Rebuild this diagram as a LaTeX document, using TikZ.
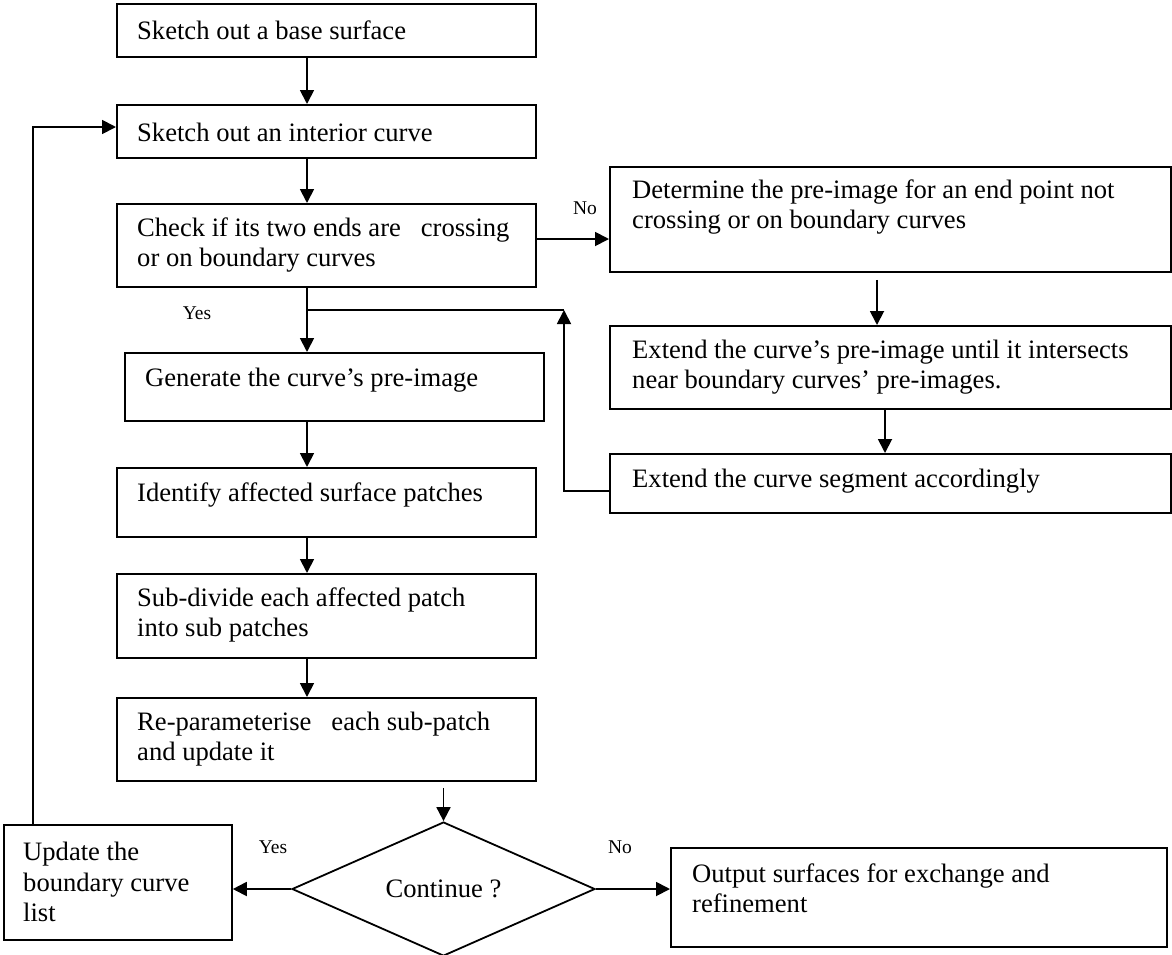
\documentclass[tikz,border=0pt]{standalone}
\usepackage{fontspec}
\setmainfont{Liberation Serif}
\usetikzlibrary{arrows.meta,shapes.geometric,calc}
\newcommand\mkbox[5]{\node[box,minimum width={(#4-#2)*1pt},minimum height={(#5-#3)*1pt}] (#1) at (#2,#3) {};}
\begin{document}
\begin{tikzpicture}[x=1pt,y=-1pt,
  box/.style={draw,line width=1.8pt,inner sep=0pt,anchor=north west},
  txt/.style={font=\fontsize{26.6}{30.5}\selectfont,align=left,anchor=west,inner sep=0pt},
  lbl/.style={font=\fontsize{19.5}{22}\selectfont,inner sep=0pt},
  arr/.style={line width=1.8pt,-{Triangle[length=14pt,width=14pt]}},
  ln/.style={line width=1.8pt}]
\useasboundingbox (0,0) rectangle (1172,954);
% boxes
\mkbox{b1}{116}{3}{535}{56}
\mkbox{b2}{116}{104}{535}{157}
\mkbox{b3}{116}{203}{535}{286}
\mkbox{b4}{609}{166}{1170}{271}
\mkbox{b5}{609}{325}{1170}{408}
\mkbox{b6}{609}{453}{1170}{512}
\mkbox{bg}{124}{352}{543}{420}
\mkbox{bi}{116}{467}{535}{536}
\mkbox{bs}{116}{573}{535}{657}
\mkbox{br}{116}{697}{535}{780}
\mkbox{bu}{3}{824}{231}{939}
\mkbox{bo}{670}{847}{1166}{946}
\node[diamond,draw,line width=1.8pt,inner sep=0pt,minimum width=303pt,minimum height=128pt,
  font=\fontsize{26.6}{30.5}\selectfont] (d) at (443.5,889) {Continue ?};
% texts
\node[txt] (t1) at (137,30) {Sketch out a base surface};
\node[txt] (t2) at (137,132) {Sketch out an interior curve};
\node[txt] (t3) at (137,245) {Check if its two ends are\hspace{0.75em}crossing\\or on boundary curves};
\node[txt] (t4) at (632,207) {Determine the pre-image for an end point not\\crossing or on boundary curves};
\node[txt] (t5) at (632,367) {Extend the curve’s pre-image until it intersects\\near boundary curves’ pre-images.};
\node[txt] (t6) at (632,481) {Extend the curve segment accordingly};
\node[txt] (tg) at (145,380) {Generate the curve’s pre-image};
\node[txt] (ti) at (137,495) {Identify affected surface patches};
\node[txt] (ts) at (137,615) {Sub-divide each affected patch\\into sub patches};
\node[txt] (tr) at (137,739) {Re-parameterise\hspace{0.75em}each sub-patch\\and update it};
\node[txt] (tu) at (23,882) {Update the\\boundary curve\\list};
\node[txt] (to) at (692,888) {Output surfaces for exchange and\\refinement};
% labels
\node[lbl] (lno1) at (585,208) {No};
\node[lbl] (lyes1) at (197,313) {Yes};
\node[lbl] (lyes2) at (273,847) {Yes};
\node[lbl] (lno2) at (620,847) {No};
% connectors
\coordinate (c) at (307,0);
\draw[arr] (b1.south -| c) -- (b2.north -| c);
\draw[arr] (b2.south -| c) -- (b3.north -| c);
\draw[arr] (b3.south -| c) -- (bg.north -| c);
\draw[arr] (bg.south -| c) -- (bi.north -| c);
\draw[arr] (bi.south -| c) -- (bs.north -| c);
\draw[arr] (bs.south -| c) -- (br.north -| c);
\draw[arr] ($(br.south -| d.north)+(0,6)$) -- (d.north);
\coordinate (c4) at (877,0);
\coordinate (c5) at (885,0);
\draw[arr] ($(b4.south -| c4)+(0,7)$) -- (b5.north -| c4);
\draw[arr] (b5.south -| c5) -- (b6.north -| c5);
\coordinate (ny) at (0,239);
\draw[arr] (b3.east |- ny) -- (b4.west |- ny);
\coordinate (jt) at (564,310);
\coordinate (ly) at (0,491);
\draw[arr] (b6.west |- ly) -| (jt);
\draw[ln] (jt) -- (jt -| c);
\coordinate (lp) at (33,127);
\draw[arr] (bu.north -| lp) -- (lp) -- (lp -| b2.west);
\draw[arr] (d.west) -- (d.west -| bu.east);
\draw[arr] (d.east) -- (d.east -| bo.west);
\end{tikzpicture}
\end{document}
